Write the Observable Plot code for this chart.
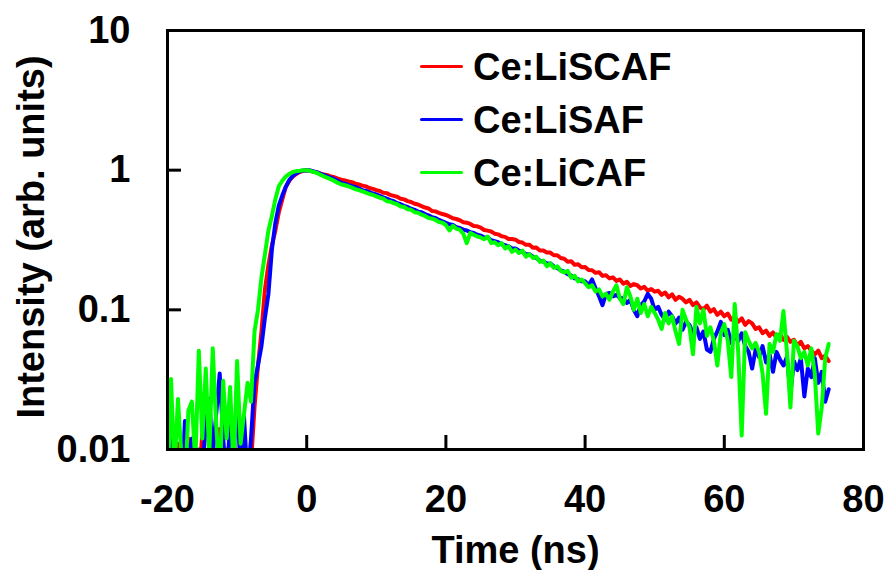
<!DOCTYPE html>
<html><head><meta charset="utf-8">
<script src="https://cdn.jsdelivr.net/npm/d3@7"></script>
<script src="https://cdn.jsdelivr.net/npm/@observablehq/plot@0.6"></script>
<style>
body{margin:0;background:#fff;}
#wrap{position:relative;width:893px;height:570px;font-family:"Liberation Sans",Arial,sans-serif;font-weight:bold;}
#legend{position:absolute;left:420px;top:40px;}
.row{display:flex;align-items:center;height:53px;font-size:38px;line-height:1;}
.sw{width:43px;height:3.5px;border-radius:2px;margin-right:10px;}
</style></head>
<body><div id="wrap"><div id="legend"></div></div>
<script>
const seriesNames = ["Ce:LiSCAF", "Ce:LiSAF", "Ce:LiCAF"];
const seriesColors = ["#ff0000", "#0000ff", "#00ff00"];
const xTicks = [-20, 0, 20, 40, 60, 80];
const xTickLabels = ["-20", "0", "20", "40", "60", "80"];
const yTicks = [0.01, 0.1, 1, 10];
const yTickLabels = ["0.01", "0.1", "1", "10"];
const xLabel = "Time (ns)";
const yLabel = "Intensity (arb. units)";
// sampling grid: -20 ns to 75 ns every 0.5 ns
const time = d3.range(-20, 75.001, 0.5);

const liscaf = [
0.005,0.008,0.006,0.011,0.004,0.007,0.012,0.005,0.009,0.006,
0.013,0.005,0.008,0.011,0.006,0.014,0.007,0.010,0.005,0.012,
0.007,0.011,0.006,0.009,0.008,0.020,0.040,0.070,0.140,0.210,
0.290,0.370,0.500,0.620,0.760,0.840,0.900,0.940,0.970,0.990,
1.000,0.990,0.975,0.965,0.945,0.930,0.920,0.900,0.890,0.870,
0.855,0.845,0.830,0.820,0.800,0.790,0.775,0.765,0.745,0.735,
0.720,0.710,0.690,0.685,0.665,0.655,0.645,0.625,0.618,0.600,
0.592,0.575,0.568,0.553,0.540,0.532,0.510,0.507,0.495,0.485,
0.478,0.466,0.452,0.447,0.438,0.424,0.421,0.412,0.398,0.396,
0.388,0.373,0.369,0.364,0.351,0.347,0.336,0.333,0.322,0.321,
0.318,0.306,0.303,0.292,0.292,0.278,0.279,0.266,0.266,0.257,
0.257,0.246,0.246,0.235,0.232,0.221,0.223,0.210,0.212,0.202,
0.203,0.193,0.192,0.184,0.186,0.175,0.177,0.168,0.171,0.161,
0.165,0.154,0.159,0.148,0.153,0.150,0.142,0.146,0.137,0.141,
0.135,0.137,0.128,0.133,0.123,0.129,0.118,0.124,0.120,0.113,
0.118,0.108,0.113,0.104,0.101,0.107,0.097,0.101,0.092,0.097,
0.090,0.094,0.085,0.089,0.082,0.087,0.078,0.083,0.080,0.073,
0.075,0.068,0.071,0.065,0.069,0.063,0.067,0.061,0.064,0.059,
0.061,0.056,0.059,0.053,0.055,0.051,0.048,0.051,0.045,0.047,
0.043];

const lisaf = [
0.006,0.013,0.005,0.009,0.004,0.016,0.008,0.012,0.005,0.010,
0.007,0.015,0.023,0.009,0.018,0.035,0.012,0.006,0.016,0.009,
0.023,0.007,0.017,0.006,0.012,0.030,0.040,0.055,0.088,0.130,
0.270,0.420,0.560,0.660,0.760,0.850,0.910,0.950,0.980,0.995,
1.000,0.995,0.980,0.965,0.940,0.920,0.900,0.885,0.860,0.835,
0.810,0.800,0.780,0.770,0.755,0.740,0.720,0.710,0.695,0.680,
0.670,0.655,0.640,0.625,0.610,0.600,0.580,0.570,0.555,0.545,
0.530,0.520,0.505,0.500,0.485,0.475,0.460,0.455,0.440,0.430,
0.420,0.410,0.405,0.390,0.385,0.375,0.370,0.360,0.355,0.345,
0.340,0.330,0.330,0.315,0.310,0.305,0.295,0.290,0.285,0.275,
0.275,0.265,0.260,0.250,0.250,0.240,0.235,0.225,0.222,0.215,
0.215,0.205,0.200,0.192,0.188,0.180,0.176,0.168,0.166,0.160,
0.160,0.150,0.165,0.143,0.125,0.108,0.130,0.132,0.125,0.128,
0.122,0.120,0.112,0.118,0.100,0.090,0.108,0.115,0.130,0.120,
0.100,0.105,0.092,0.085,0.097,0.090,0.080,0.088,0.072,0.082,
0.078,0.068,0.075,0.062,0.070,0.052,0.050,0.062,0.070,0.082,
0.066,0.072,0.058,0.065,0.060,0.068,0.055,0.050,0.038,0.052,
0.046,0.055,0.042,0.048,0.036,0.050,0.044,0.040,0.046,0.025,
0.043,0.037,0.045,0.024,0.038,0.033,0.045,0.030,0.036,0.022,
0.027];

const licaf = [
0.005,0.032,0.007,0.023,0.009,0.005,0.019,0.022,0.008,0.051,
0.012,0.038,0.009,0.053,0.015,0.006,0.031,0.012,0.028,0.007,
0.043,0.011,0.018,0.030,0.022,0.070,0.100,0.170,0.250,0.370,
0.470,0.620,0.770,0.840,0.900,0.940,0.970,0.985,0.990,1.000,
1.000,0.990,0.970,0.955,0.925,0.900,0.880,0.860,0.835,0.810,
0.790,0.780,0.765,0.750,0.730,0.720,0.705,0.690,0.675,0.665,
0.650,0.635,0.625,0.600,0.595,0.580,0.570,0.550,0.545,0.525,
0.520,0.500,0.495,0.480,0.470,0.455,0.450,0.440,0.425,0.420,
0.405,0.370,0.400,0.380,0.375,0.350,0.300,0.355,0.345,0.335,
0.330,0.320,0.335,0.300,0.305,0.290,0.300,0.275,0.285,0.260,
0.270,0.255,0.265,0.240,0.250,0.235,0.240,0.220,0.225,0.205,
0.215,0.200,0.205,0.190,0.185,0.190,0.170,0.175,0.160,0.165,
0.155,0.145,0.150,0.135,0.140,0.125,0.130,0.118,0.135,0.150,
0.120,0.110,0.145,0.125,0.100,0.120,0.095,0.110,0.090,0.105,
0.095,0.085,0.073,0.095,0.080,0.090,0.070,0.057,0.100,0.085,
0.075,0.048,0.105,0.080,0.100,0.065,0.075,0.060,0.040,0.068,
0.079,0.060,0.033,0.110,0.050,0.0126,0.069,0.060,0.053,0.058,
0.050,0.035,0.018,0.057,0.050,0.067,0.060,0.098,0.050,0.020,
0.060,0.055,0.045,0.050,0.040,0.053,0.035,0.013,0.020,0.045,
0.057];

const seriesValues = [liscaf, lisaf, licaf];
const rows = [];
seriesNames.forEach((name, k) => {
  seriesValues[k].forEach((v, i) => rows.push({t: time[i], v, s: name}));
});

const W = 893, H = 570, mL = 167, mR = 30, mT = 30, mB = 121;
const plotW = W - mL - mR, plotH = H - mT - mB;
const tickLen = 14;
const fs = 38;

const chart = Plot.plot({
  width: W, height: H,
  marginLeft: mL, marginRight: mR, marginTop: mT, marginBottom: mB,
  style: {fontFamily: "'Liberation Sans', Arial, sans-serif", fontWeight: "bold", background: "#fff", color: "#000"},
  x: {domain: [-20, 80]},
  y: {type: "log", domain: [0.01, 10]},
  color: {domain: seriesNames, range: seriesColors},
  marks: [
    Plot.line(rows, {x: "t", y: "v", z: "s", stroke: "s", strokeWidth: 4, strokeLinejoin: "round", clip: true}),
    Plot.ruleX(xTicks, {x: d => d, insetTop: plotH - tickLen, strokeWidth: 3, stroke: "#000"}),
    Plot.ruleY(yTicks, {y: d => d, insetRight: plotW - tickLen, strokeWidth: 3, stroke: "#000"}),
    Plot.frame({stroke: "#000", strokeWidth: 3}),
    Plot.axisX({ticks: xTicks, tickSize: 0, tickPadding: 36, fontSize: fs, fontWeight: "bold", label: null,
      tickFormat: d => xTickLabels[xTicks.indexOf(d)]}),
    Plot.axisY({ticks: yTicks, tickSize: 0, tickPadding: 37, fontSize: fs, fontWeight: "bold", label: null,
      tickFormat: d => yTickLabels[yTicks.indexOf(d)]}),
    Plot.text([xLabel], {text: d => d, frameAnchor: "bottom", dy: 101, fontSize: fs, fontWeight: "bold", textAnchor: "middle", lineAnchor: "middle"}),
    Plot.text([yLabel], {text: d => d, frameAnchor: "left", dx: -136, dy: -3, rotate: -90, fontSize: fs, fontWeight: "bold", textAnchor: "middle", lineAnchor: "middle"})
  ]
});
document.getElementById("wrap").prepend(chart);

const legend = document.getElementById("legend");
seriesNames.forEach((name, k) => {
  const row = document.createElement("div");
  row.className = "row";
  const sw = document.createElement("div");
  sw.className = "sw";
  sw.style.background = seriesColors[k];
  const lab = document.createElement("span");
  lab.textContent = name;
  row.append(sw, lab);
  legend.append(row);
});
</script></body></html>
